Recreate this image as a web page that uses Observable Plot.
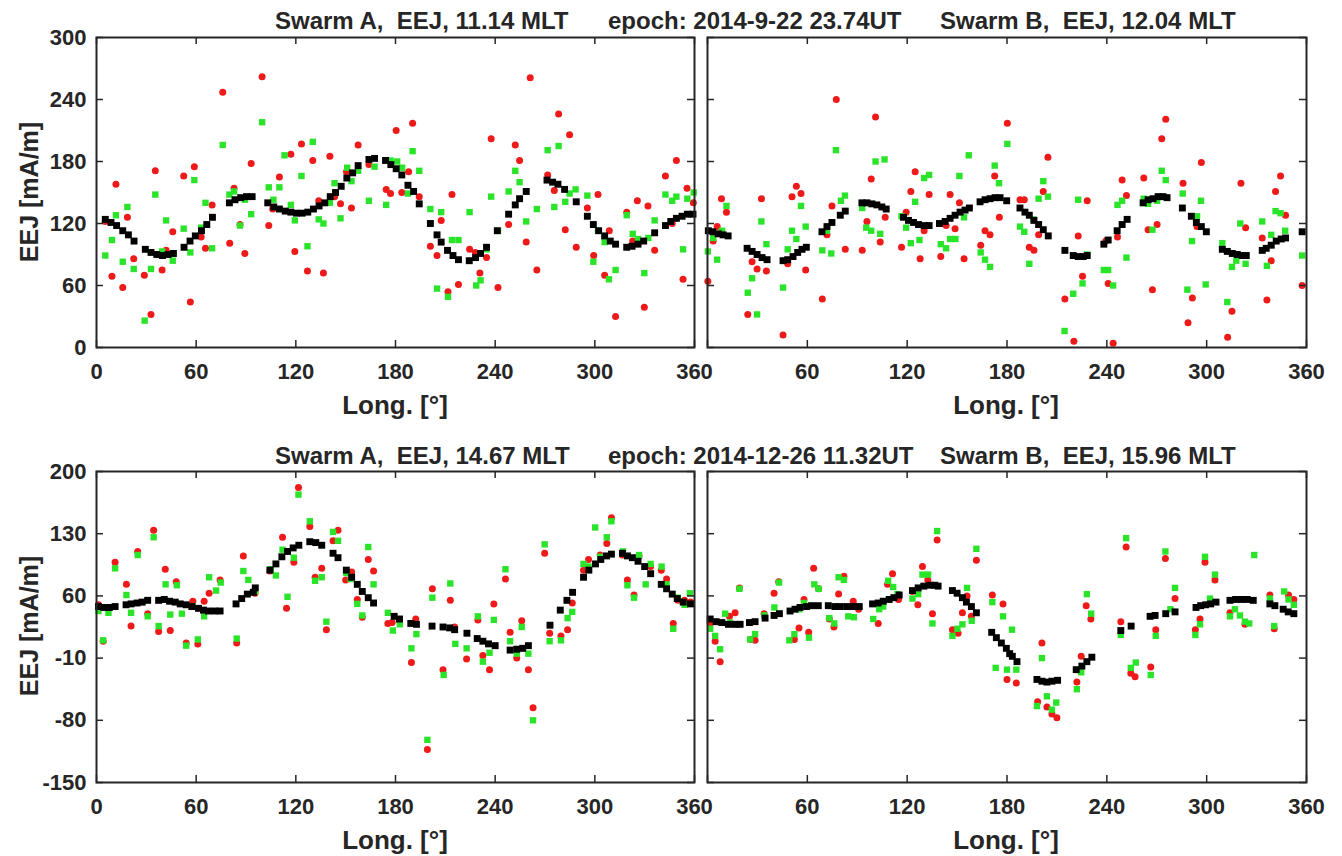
<!DOCTYPE html>
<html><head><meta charset="utf-8">
<script src="https://cdn.jsdelivr.net/npm/d3@7"></script>
<script src="https://cdn.jsdelivr.net/npm/@observablehq/plot@0.6"></script>
<style>
body{margin:0;background:#fff;}
#wrap{position:relative;width:1342px;height:856px;overflow:hidden;background:#fff;font-family:"Liberation Sans",Arial,sans-serif;}
#wrap > svg{position:absolute;}
</style></head><body><div id="wrap"></div>
<script>
// ---------- tick labels / text ----------
const xTicks = [0, 60, 120, 180, 240, 300, 360];
const yTicksTop = [0, 60, 120, 180, 240, 300];
const yTicksBottom = [-150, -80, -10, 60, 130, 200];
const titlesTop = ["Swarm A,  EEJ, 11.14 MLT", "epoch: 2014-9-22 23.74UT", "Swarm B,  EEJ, 12.04 MLT"];
const titlesBottom = ["Swarm A,  EEJ, 14.67 MLT", "epoch: 2014-12-26 11.32UT", "Swarm B,  EEJ, 15.96 MLT"];
const xLabel = "Long. [°]";
const yLabel = "EEJ [mA/m]";

// ---------- data: [longitude, EEJ] ----------
// Panel 1: Swarm A, 2014-9-22
const p1Black = [[5.3,124],[8.7,121],[12.1,118],[15.8,113],[19.2,109],[22.6,103],[29.4,95],[32.8,92],[36.3,90],[39.7,89],[43.1,90],[46.3,91],[52.7,97],[56.3,103],[59.5,108],[63.2,113],[66.4,119],[69.8,126],[80.0,140],[83.4,143],[86.8,145],[90.3,146],[93.7,146],[103.1,140],[106.7,136],[110.1,134],[113.6,132],[117.0,131],[120.4,130],[123.8,130],[127.2,131],[130.6,134],[134.0,137],[137.4,140],[140.7,146],[143.9,150],[147.3,156],[150.7,164],[154.2,169],[157.5,176],[164.0,182],[167.4,183],[174.0,181],[177.2,177],[180.4,173],[183.8,167],[187.5,157],[190.9,151],[194.3,139],[201.0,120],[205.0,109],[207.5,102],[211.3,94],[214.6,89],[217.9,85],[224.4,84],[228.2,87],[231.2,91],[234.8,97],[241.3,113],[248.1,129],[252.1,138],[254.7,144],[258.7,151],[271.2,162],[274.6,160],[277.8,158],[281.8,153],[288.8,141],[295.5,127],[299.1,119],[302.3,113],[305.9,108],[309.3,103],[312.5,100],[319.2,97],[322.4,98],[326.0,100],[329.4,103],[336.0,111],[342.5,118],[345.7,122],[349.1,125],[352.5,127],[355.7,129],[359.1,129]];
const p1Red = [[5.3,122],[11.7,158],[18.6,126],[9.3,69],[15.8,58],[22.4,86],[28.8,70],[32.8,32],[35.4,171],[39.5,75],[41.9,94],[45.9,112],[52.5,166],[56.5,44],[58.9,175],[63.0,107],[65.6,96],[69.6,138],[76.0,247],[80.2,101],[82.8,154],[86.4,119],[89.3,91],[93.1,178],[99.7,262],[103.7,118],[106.1,134],[110.1,165],[117.0,187],[119.4,93],[123.4,197],[127.0,74],[130.2,181],[133.8,142],[136.6,72],[140.5,185],[143.3,146],[146.9,139],[150.5,170],[153.5,135],[157.5,196],[164.0,177],[174.4,153],[177.0,149],[180.4,210],[183.8,150],[187.9,170],[190.3,217],[194.3,146],[201.0,98],[205.0,89],[207.5,123],[211.6,54],[214.0,148],[217.9,61],[224.6,95],[228.0,92],[230.8,72],[234.8,87],[237.6,202],[241.7,58],[248.1,119],[252.1,196],[254.7,181],[258.7,102],[261.1,261],[265.1,75],[271.6,167],[275.6,152],[278.2,226],[282.2,114],[284.8,206],[288.8,97],[295.5,135],[299.3,89],[301.9,148],[305.9,70],[308.7,113],[312.5,30],[319.2,131],[322.8,103],[325.6,142],[329.8,39],[332.0,137],[336.0,94],[342.5,166],[346.6,120],[349.1,181],[353.1,66],[355.5,154],[359.3,140]];
const p1Green = [[5.3,89],[9.3,104],[11.7,128],[15.8,83],[18.6,136],[22.4,76],[29.0,26],[32.8,76],[35.4,148],[39.5,93],[41.9,123],[45.9,84],[52.5,115],[56.5,92],[58.9,162],[63.0,116],[65.6,140],[69.6,96],[76.0,196],[80.0,148],[82.8,151],[86.4,118],[89.3,143],[93.1,129],[99.7,218],[103.7,155],[106.5,143],[110.1,155],[113.2,186],[117.0,138],[119.4,123],[123.4,166],[127.0,98],[130.2,199],[133.8,124],[136.6,120],[140.5,140],[143.3,159],[146.9,125],[150.9,174],[153.5,161],[157.5,171],[164.0,142],[167.4,175],[174.4,138],[177.0,181],[181.0,180],[184.0,174],[187.5,149],[190.3,190],[194.3,171],[201.0,134],[207.5,131],[205.0,57],[211.6,49],[214.0,104],[217.9,104],[224.6,131],[228.6,60],[231.2,65],[234.8,95],[237.6,146],[241.7,113],[248.1,151],[252.1,171],[254.7,160],[258.7,122],[265.1,134],[271.6,191],[275.6,136],[278.2,195],[282.2,141],[284.8,149],[288.4,153],[295.5,147],[299.1,83],[301.9,113],[305.9,102],[308.5,66],[312.5,75],[319.2,128],[322.8,110],[326.0,105],[329.8,72],[332.2,106],[336.0,123],[342.5,148],[346.6,142],[349.1,146],[353.1,95],[355.7,144],[359.5,150]];

// Panel 2: Swarm B, 2014-9-22
const p2Black = [[0.5,113],[3.2,112],[6.4,110],[9.4,109],[12.4,108],[23.8,96],[26.8,93],[29.8,90],[32.8,87],[35.8,85],[45.4,84],[48.2,85],[51.4,88],[54.2,92],[56.8,95],[59.4,97],[68.8,112],[71.8,117],[74.8,121],[79.8,128],[82.8,132],[92.8,140],[95.8,140],[98.8,139],[101.8,138],[104.8,136],[107.4,134],[117.8,126],[120.8,123],[123.8,121],[126.8,119],[130.2,118],[133.2,118],[139.4,120],[142.8,122],[145.8,125],[148.8,128],[151.8,131],[154.8,133],[157.4,135],[163.8,141],[166.8,143],[169.8,144],[172.8,145],[175.8,145],[179.8,142],[187.8,135],[190.8,131],[193.4,128],[196.2,123],[199.0,119],[201.8,114],[204.8,108],[214.8,94],[219.8,89],[222.8,88],[225.8,88],[228.2,89],[238.2,100],[240.8,104],[246.2,113],[249.2,119],[252.2,124],[261.8,140],[264.8,143],[267.8,144],[270.8,146],[273.8,146],[276.2,145],[285.4,135],[290.8,127],[293.8,121],[296.8,117],[299.8,112],[309.4,95],[312.4,93],[315.4,91],[318.4,90],[321.4,89],[323.8,89],[333.4,94],[335.8,96],[338.8,99],[341.8,103],[344.8,105],[347.4,106],[357.4,112]];
const p2Red = [[0.2,64],[3.4,103],[5.8,117],[8.4,144],[11.4,131],[24.2,32],[26.8,83],[29.8,76],[32.4,144],[35.4,74],[45.4,12],[48.2,81],[50.8,146],[53.4,156],[56.2,149],[59.0,75],[69.0,47],[71.8,109],[74.8,137],[77.4,240],[82.8,95],[93.0,94],[95.8,122],[98.4,163],[101.0,223],[103.8,102],[106.8,126],[116.6,97],[119.4,131],[122.2,151],[124.8,170],[127.8,86],[130.2,113],[133.2,148],[140.2,88],[143.4,118],[145.8,148],[148.8,115],[151.4,140],[154.2,86],[164.2,99],[166.8,113],[169.8,109],[172.6,166],[175.4,126],[180.2,217],[187.8,143],[190.4,143],[193.4,97],[196.2,94],[199.0,109],[201.8,151],[204.6,184],[214.8,47],[220.2,6],[222.8,108],[225.4,69],[228.2,142],[239.4,103],[240.8,62],[243.8,4],[246.4,107],[249.2,162],[251.8,147],[262.2,164],[264.8,114],[267.4,56],[270.2,119],[273.0,202],[275.4,221],[285.8,159],[288.8,24],[291.4,48],[294.2,117],[296.8,179],[312.6,10],[315.2,35],[320.6,159],[323.4,116],[333.4,106],[336.2,46],[338.8,84],[341.4,151],[344.4,166],[347.4,128],[357.4,60]];
const p2Green = [[0.2,93],[3.4,106],[5.8,85],[8.8,113],[11.4,137],[24.2,53],[26.8,67],[29.8,32],[32.4,122],[35.4,100],[45.4,58],[48.2,95],[50.8,113],[53.4,105],[56.2,137],[59.0,117],[69.0,94],[71.8,113],[74.4,91],[77.2,191],[80.2,142],[82.6,147],[93.0,135],[95.4,116],[98.4,113],[101.0,180],[103.8,110],[106.4,182],[116.6,127],[119.4,116],[122.2,101],[124.8,141],[127.4,104],[130.2,164],[133.2,167],[140.2,100],[143.4,96],[145.8,105],[149.0,105],[151.4,166],[154.2,126],[157.0,186],[164.2,92],[166.8,85],[169.8,78],[172.6,176],[175.2,159],[180.2,197],[187.8,117],[190.4,112],[193.4,81],[195.8,124],[199.0,144],[201.8,161],[204.6,146],[214.6,16],[219.8,52],[222.8,143],[225.4,62],[228.2,90],[238.2,75],[240.8,75],[243.8,60],[246.4,138],[249.2,142],[251.8,87],[262.2,144],[264.8,139],[267.4,114],[270.2,142],[273.0,171],[275.4,162],[285.6,149],[288.4,56],[291.2,103],[294.2,127],[296.6,142],[299.4,61],[309.4,101],[312.4,44],[315.2,78],[317.8,84],[320.2,120],[323.4,81],[333.4,122],[336.2,79],[338.8,109],[341.4,132],[344.4,130],[347.2,113],[357.4,89]];

// Panel 3: Swarm A, 2014-12-26
const p3Black = [[1.2,48],[4.4,47],[7.8,47],[11.2,48],[17.8,50],[20.8,51],[24.4,52],[27.4,53],[30.8,55],[37.4,55],[40.8,56],[44.0,54],[47.4,53],[50.4,51],[54.0,50],[57.4,48],[61.4,46],[64.4,44],[67.4,43],[71.2,43],[74.4,43],[84.0,51],[87.4,57],[90.8,62],[94.4,64],[95.6,69],[104.4,89],[108.0,96],[111.6,104],[115.0,110],[118.4,114],[121.8,117],[128.4,121],[132.0,120],[135.6,117],[142.4,108],[145.4,103],[150.4,89],[153.6,81],[157.0,73],[160.0,65],[163.6,58],[166.8,52],[179.2,37],[182.4,34],[189.2,29],[192.6,28],[202.0,26],[208.6,25],[212.6,24],[215.6,22],[223.0,18],[229.2,12],[232.6,9],[236.0,6],[240.0,4],[249.0,-1],[253.0,0],[256.6,1],[260.0,4],[273.0,27],[279.2,44],[283.2,55],[286.6,64],[293.2,81],[296.4,89],[300.4,96],[303.6,101],[307.0,105],[310.0,107],[316.6,108],[319.6,105],[322.6,103],[326.0,99],[330.0,93],[333.6,85],[340.0,73],[343.2,68],[346.6,62],[349.6,57],[353.2,53],[357.6,51]];
const p3Red = [[1.2,50],[4.0,9],[11.2,98],[18.0,73],[20.8,26],[24.8,110],[30.8,40],[34.4,134],[37.4,20],[41.4,90],[44.4,21],[48.0,76],[54.0,7],[58.0,54],[61.0,6],[64.8,54],[67.8,63],[74.4,78],[84.4,7],[88.4,105],[95.4,63],[104.4,88],[112.0,126],[114.4,46],[118.8,98],[121.6,182],[128.4,138],[131.6,81],[135.6,91],[138.4,22],[142.4,122],[145.4,134],[150.0,78],[153.6,87],[157.0,56],[160.0,36],[163.6,101],[166.8,88],[175.4,29],[178.0,30],[189.6,-15],[192.2,34],[199.2,-113],[202.2,68],[208.6,-23],[213.0,55],[215.6,25],[222.8,-11],[229.6,33],[232.6,-7],[236.6,-23],[239.2,51],[246.2,79],[249.0,19],[253.0,-10],[256.0,32],[260.0,-23],[262.8,-66],[269.8,108],[272.8,18],[279.6,15],[283.6,22],[286.4,52],[293.2,89],[296.2,101],[303.2,106],[307.2,119],[310.0,148],[316.6,106],[319.6,78],[323.6,61],[326.6,105],[333.6,93],[340.0,89],[343.2,79],[347.2,29],[350.0,55],[354.0,55],[357.6,53]];
const p3Green = [[1.2,43],[4.0,10],[7.2,41],[11.2,91],[18.0,61],[20.8,41],[24.8,106],[27.8,53],[30.8,37],[34.4,126],[37.4,26],[41.6,73],[44.4,39],[48.4,72],[51.4,40],[54.0,4],[58.0,48],[61.0,11],[64.8,37],[67.8,81],[72.0,66],[74.8,75],[84.4,12],[88.4,88],[91.4,78],[95.4,65],[105.0,90],[108.0,83],[112.0,112],[115.0,59],[118.8,103],[121.6,174],[128.4,144],[131.6,77],[135.6,81],[138.4,31],[142.4,132],[145.4,122],[150.4,86],[153.0,79],[157.0,51],[160.0,38],[163.6,115],[166.8,73],[175.4,41],[178.4,21],[182.6,28],[189.6,1],[192.6,17],[199.2,-102],[202.2,58],[209.0,-29],[213.0,74],[216.0,6],[222.8,1],[229.6,37],[232.6,-14],[236.6,-4],[239.2,33],[246.2,90],[249.0,9],[253.0,-5],[256.0,25],[260.0,-5],[262.8,-80],[269.8,118],[272.8,9],[279.6,10],[283.6,35],[286.4,42],[293.2,96],[296.2,93],[300.2,137],[303.2,104],[307.2,126],[310.0,144],[317.0,110],[319.6,72],[323.6,58],[326.6,106],[330.6,73],[333.6,96],[340.2,93],[343.2,73],[347.2,23],[350.0,58],[354.0,50],[357.2,63]];

// Panel 4: Swarm B, 2014-12-26
const p4Black = [[1.6,34],[5.2,31],[8.6,30],[12.6,28],[16.6,28],[19.6,28],[25.2,30],[28.6,31],[34.6,35],[40.0,38],[43.2,40],[49.6,43],[52.6,45],[55.6,47],[59.6,48],[62.6,49],[66.6,49],[72.6,49],[76.6,48],[79.6,48],[83.6,48],[87.6,48],[91.2,48],[99.2,51],[102.6,52],[105.6,54],[109.2,56],[112.0,58],[115.2,61],[123.2,66],[126.6,69],[130.0,71],[133.6,72],[136.6,72],[138.6,71],[147.2,66],[150.0,63],[153.2,58],[155.6,53],[158.6,48],[161.6,41],[170.8,19],[173.6,13],[176.6,7],[179.6,1],[181.6,-5],[183.2,-8],[186.0,-14],[198.0,-34],[201.0,-36],[204.0,-37],[207.0,-36],[210.4,-35],[221.6,-23],[225.0,-19],[228.0,-14],[231.0,-9],[248.4,21],[254.6,26],[266.0,37],[269.0,38],[275.4,40],[281.0,42],[293.6,47],[296.4,49],[299.4,50],[302.4,51],[305.6,53],[314.0,55],[317.4,56],[321.0,56],[324.4,56],[328.0,55],[338.0,51],[341.0,49],[346.0,45],[349.0,42],[352.4,40]];
const p4Red = [[1.6,29],[4.6,9],[7.6,-14],[13.2,37],[16.6,41],[19.2,69],[26.0,11],[28.6,10],[34.0,40],[40.0,63],[42.8,76],[52.2,11],[55.0,24],[58.0,56],[60.8,19],[63.8,91],[66.8,68],[73.2,34],[76.0,25],[78.8,62],[82.0,82],[87.6,54],[90.8,45],[102.6,29],[108.2,73],[111.2,85],[114.8,56],[123.2,65],[126.4,50],[129.2,93],[132.4,78],[135.2,40],[138.0,123],[147.2,22],[150.6,18],[153.2,41],[156.0,60],[158.6,37],[161.6,100],[171.2,61],[177.6,51],[180.0,-34],[185.6,-38],[198.4,-59],[201.0,7],[204.0,-65],[207.0,-73],[210.0,-77],[222.0,-37],[224.6,-8],[227.6,49],[230.4,34],[248.4,31],[251.6,115],[254.4,-27],[257.0,-31],[266.4,-20],[269.4,22],[275.2,102],[281.0,57],[293.2,22],[296.0,34],[299.0,98],[305.0,78],[314.0,41],[323.0,28],[338.0,61],[340.6,23],[349.2,61],[352.4,56]];
const p4Green = [[1.6,23],[4.6,15],[7.6,0],[10.6,40],[13.6,30],[16.6,28],[19.2,68],[25.6,11],[28.6,17],[34.2,38],[40.2,47],[43.0,75],[49.2,10],[52.2,17],[55.2,45],[58.0,52],[61.0,13],[64.2,73],[66.8,68],[73.2,35],[76.2,29],[78.8,81],[82.0,78],[84.6,37],[88.0,36],[91.0,48],[99.6,34],[103.2,45],[105.6,48],[108.6,77],[111.6,70],[114.2,62],[123.2,57],[126.6,62],[129.2,84],[132.6,84],[135.2,29],[138.0,133],[147.2,15],[150.2,23],[153.2,28],[156.0,69],[158.8,32],[161.6,113],[171.2,53],[173.2,-21],[177.6,37],[180.0,-23],[183.0,22],[185.6,-23],[198.0,-64],[201.0,-10],[204.0,-53],[207.0,-68],[209.6,-60],[222.0,-45],[224.6,-26],[228.0,62],[230.6,40],[248.4,16],[251.6,125],[254.4,-21],[257.4,-15],[266.4,-29],[269.4,15],[275.2,110],[278.2,45],[281.0,69],[293.2,16],[296.0,28],[299.0,104],[302.0,57],[305.0,84],[314.0,37],[317.0,45],[320.0,38],[323.0,31],[325.6,29],[328.6,106],[338.0,57],[340.6,26],[346.6,65],[349.2,56],[352.4,50]];

// ---------- styling ----------
const INK = "#262626";
const RED = "#ee1a1a";
const GREEN = "#2ae42a";
const FONT = '"Liberation Sans", Arial, sans-serif';
const fmt = d => String(d);  // plain hyphen-minus like the original

function panel({black, red, green, yDomain, yTicks, showY, showX0, fx, fy, fw, fh}) {
  const mL = showY ? 96 : 12, mR = 14, mT = 8, mB = 44;
  const xt = showX0 ? xTicks : xTicks.filter(d => d !== 0);
  const svg = Plot.plot({
    width: mL + fw + mR, height: mT + fh + mB,
    marginLeft: mL, marginRight: mR, marginTop: mT, marginBottom: mB,
    style: {background: "transparent", fontFamily: FONT, overflow: "visible"},
    x: {domain: [0, 360]},
    y: {domain: yDomain},
    marks: [
      Plot.dot(red, {x: d => d[0], y: d => d[1], r: 3.5, fill: RED}),
      Plot.dot(green, {x: d => d[0], y: d => d[1], symbol: "square", r: 3.6, fill: GREEN}),
      Plot.dot(black, {x: d => d[0], y: d => d[1], symbol: "square", r: 3.9, fill: "#000"}),
      Plot.tickX(xTicks, {x: d => d, insetTop: fh - 7, stroke: INK, strokeWidth: 1.5}),
      Plot.tickX(xTicks, {x: d => d, insetBottom: fh - 7, stroke: INK, strokeWidth: 1.5}),
      Plot.tickY(yTicks, {y: d => d, insetRight: fw - 7, stroke: INK, strokeWidth: 1.5}),
      Plot.tickY(yTicks, {y: d => d, insetLeft: fw - 7, stroke: INK, strokeWidth: 1.5}),
      Plot.frame({stroke: INK, strokeWidth: 2}),
      Plot.axisX(xt, {anchor: "bottom", tickSize: 0, tickPadding: 16, tickFormat: fmt, fontSize: 22, fontWeight: "bold", fill: INK, label: null}),
      showY ? Plot.axisY(yTicks, {anchor: "left", tickSize: 0, tickPadding: 10, tickFormat: fmt, fontSize: 22, fontWeight: "bold", fill: INK, label: null}) : Plot.axisY({ticks: [], label: null, tickSize: 0})
    ]
  });
  svg.style.left = (fx - mL) + "px";
  svg.style.top = (fy - mT) + "px";
  return svg;
}

const wrap = document.getElementById("wrap");
const TOP = {fy: 37, fh: 310}, BOT = {fy: 471, fh: 311};
const LEFT = {fx: 96, fw: 598}, RIGHT = {fx: 707, fw: 599};
wrap.appendChild(panel({black: p1Black, red: p1Red, green: p1Green, yDomain: [0, 300], yTicks: yTicksTop, showY: true, showX0: true, ...LEFT, ...TOP}));
wrap.appendChild(panel({black: p2Black, red: p2Red, green: p2Green, yDomain: [0, 300], yTicks: yTicksTop, showY: false, showX0: false, ...RIGHT, ...TOP}));
wrap.appendChild(panel({black: p3Black, red: p3Red, green: p3Green, yDomain: [-150, 200], yTicks: yTicksBottom, showY: true, showX0: true, ...LEFT, ...BOT}));
wrap.appendChild(panel({black: p4Black, red: p4Red, green: p4Green, yDomain: [-150, 200], yTicks: yTicksBottom, showY: false, showX0: false, ...RIGHT, ...BOT}));

// ---------- text overlay ----------
const ns = "http://www.w3.org/2000/svg";
const ov = document.createElementNS(ns, "svg");
ov.setAttribute("width", 1342); ov.setAttribute("height", 856);
ov.style.left = "0px"; ov.style.top = "0px";
ov.style.fontFamily = FONT; ov.style.fontWeight = "bold";
ov.style.whiteSpace = "pre";
function txt(s, x, y, size, anchor, rot) {
  const t = document.createElementNS(ns, "text");
  t.textContent = s;
  t.setAttribute("font-size", size);
  t.setAttribute("fill", INK);
  t.setAttribute("text-anchor", anchor);
  t.setAttributeNS("http://www.w3.org/XML/1998/namespace", "xml:space", "preserve");
  t.style.whiteSpace = "pre";
  if (rot) t.setAttribute("transform", `translate(${x},${y}) rotate(-90)`);
  else { t.setAttribute("x", x); t.setAttribute("y", y); }
  ov.appendChild(t);
}
const titleX = [275, 608, 940];
titlesTop.forEach((s, i) => txt(s, titleX[i], 29, 24, "start"));
titlesBottom.forEach((s, i) => txt(s, titleX[i], 464, 24, "start"));
txt(xLabel, 395, 414, 26, "middle");
txt(xLabel, 1006, 414, 26, "middle");
txt(xLabel, 395, 849, 26, "middle");
txt(xLabel, 1006, 849, 26, "middle");
txt(yLabel, 38, 192, 25, "middle", true);
txt(yLabel, 38, 626, 25, "middle", true);
wrap.appendChild(ov);
</script>
</body></html>
